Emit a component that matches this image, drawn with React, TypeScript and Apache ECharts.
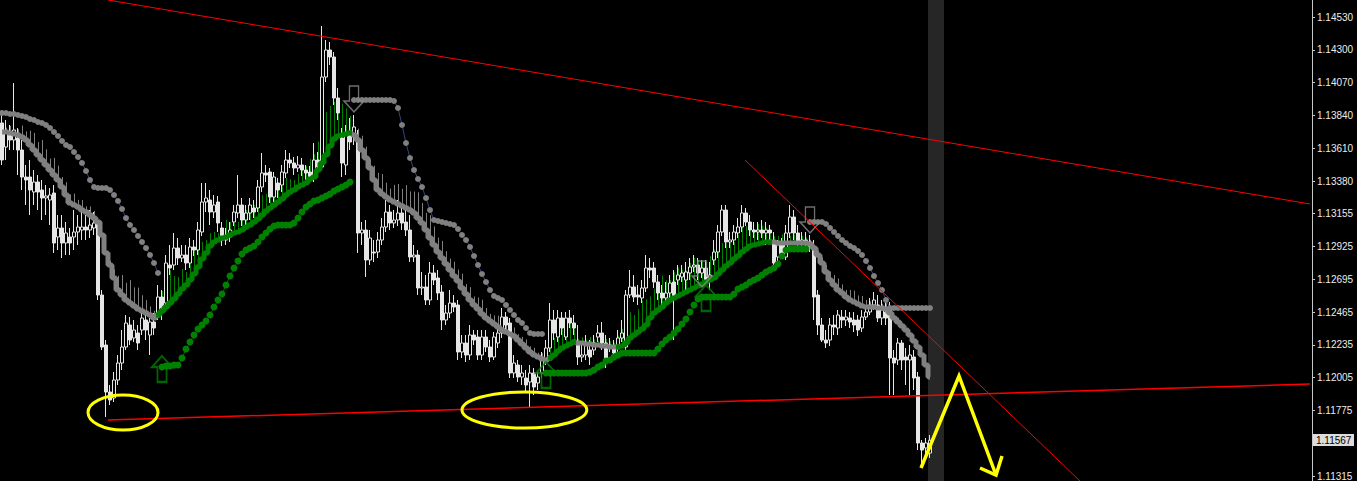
import React, { useEffect, useRef } from "react";
import * as echarts from "echarts";

// ---------- data ----------
const SLOTS = 328; // bar slots on the time axis (chart shift to the right)
const Y_MIN = 1.11282;
const Y_MAX = 1.14649;

const priceTicks = [1.1453, 1.143, 1.1407, 1.1384, 1.1361, 1.1338, 1.13155, 1.12925, 1.12695, 1.12465, 1.12235, 1.12005, 1.11775, 1.11315];
const lastPrice = 1.11567;

// [open, close, low, high]
const candles: number[][] = [
  [1.13788,1.13529,1.13494,1.13879],[1.1362,1.13718,1.13529,1.13809],[1.13704,1.13669,1.13599,1.13774],[1.13669,1.13739,1.13599,1.14068],
  [1.13683,1.13599,1.13424,1.13753],[1.13599,1.1341,1.13319,1.13669],[1.1341,1.13389,1.13214,1.13494],[1.1341,1.13319,1.13144,1.13529],
  [1.13305,1.13375,1.13214,1.13459],[1.13375,1.13305,1.13179,1.13424],[1.13319,1.13263,1.13109,1.13389],[1.13263,1.13277,1.13144,1.13354],
  [1.13249,1.13284,1.13074,1.13333],[1.13298,1.12948,1.12878,1.13354],[1.1299,1.13053,1.12899,1.13144],[1.13053,1.12948,1.12843,1.13144],
  [1.12948,1.13018,1.12864,1.13095],[1.1299,1.12948,1.12864,1.13053],[1.1299,1.13025,1.12899,1.13179],[1.13025,1.1306,1.12934,1.13144],
  [1.13039,1.1306,1.12969,1.13165],[1.1306,1.13039,1.12969,1.13144],[1.13039,1.13074,1.12983,1.13179],[1.13053,1.13088,1.13004,1.13165],
  [1.13088,1.12584,1.12549,1.13123],[1.12584,1.1222,1.12199,1.12619],[1.12234,1.11905,1.1173,1.12269],[1.11905,1.11849,1.11814,1.11954],
  [1.11863,1.11989,1.11835,1.12045],[1.11989,1.12108,1.11954,1.12164],[1.12108,1.1222,1.12059,1.12339],[1.1222,1.12388,1.12199,1.12444],
  [1.12374,1.12269,1.12234,1.1243],[1.12283,1.12339,1.12255,1.12409],[1.12318,1.12248,1.12199,1.12374],[1.12339,1.12423,1.12304,1.12479],
  [1.12409,1.12339,1.12269,1.12444],[1.12304,1.12395,1.12164,1.12423],[1.12395,1.12353,1.12304,1.12458],[1.12458,1.1257,1.12409,1.12654],
  [1.1257,1.12493,1.12409,1.12619],[1.12528,1.12808,1.12479,1.12864],[1.12794,1.12773,1.12724,1.12934],[1.12794,1.12913,1.12759,1.13018],
  [1.12913,1.12843,1.12794,1.12983],[1.12843,1.12864,1.12815,1.12934],[1.12864,1.12808,1.12759,1.12934],[1.12808,1.1292,1.12773,1.12983],
  [1.1292,1.12899,1.12857,1.12969],[1.12899,1.13039,1.12864,1.13095],[1.13025,1.13235,1.12997,1.13368],[1.13235,1.13263,1.13165,1.13368],
  [1.13249,1.13165,1.13074,1.13319],[1.13165,1.13214,1.13123,1.13284],[1.13235,1.13088,1.13025,1.13277],[1.13053,1.12969,1.12927,1.13095],
  [1.12969,1.1299,1.12934,1.13053],[1.1299,1.13039,1.12955,1.13095],[1.13095,1.13165,1.13067,1.13214],[1.13158,1.13214,1.13123,1.13424],
  [1.13214,1.13109,1.13067,1.13263],[1.13109,1.13158,1.13053,1.13214],[1.13158,1.13214,1.13109,1.13263],[1.13193,1.13165,1.13123,1.13249],
  [1.13193,1.1334,1.13165,1.13389],[1.1334,1.13438,1.13305,1.13578],[1.13438,1.13424,1.13375,1.13494],[1.13445,1.1327,1.13228,1.13473],
  [1.1327,1.1341,1.13235,1.13445],[1.13368,1.13319,1.13263,1.13403],[1.13354,1.13445,1.13305,1.13494],[1.13438,1.13529,1.13403,1.13599],
  [1.13529,1.13508,1.13473,1.13578],[1.13508,1.13473,1.13424,1.1355],[1.13473,1.13494,1.13445,1.13557],[1.13494,1.13459,1.13417,1.13543],
  [1.13459,1.13438,1.13389,1.13494],[1.13445,1.1341,1.13368,1.13487],[1.1341,1.13529,1.13375,1.13648],[1.13529,1.1348,1.13445,1.13585],
  [1.1348,1.1411,1.13459,1.14467],[1.1411,1.14299,1.14075,1.14369],[1.14299,1.1425,1.14194,1.14355],[1.1425,1.13963,1.13914,1.14285],
  [1.13963,1.13858,1.13809,1.14033],[1.13683,1.13508,1.1341,1.13753],[1.13494,1.13718,1.13424,1.13774],[1.13718,1.13655,1.13599,1.13823],
  [1.13704,1.1376,1.13634,1.13844],[1.13655,1.13018,1.12878,1.13739],[1.13018,1.13039,1.12934,1.13095],[1.13039,1.12829,1.1271,1.13109],
  [1.12829,1.12983,1.12794,1.13039],[1.12885,1.12878,1.12815,1.12969],[1.12885,1.12969,1.12843,1.13025],[1.12969,1.1306,1.12934,1.13123],
  [1.1306,1.13165,1.13025,1.13249],[1.13165,1.13088,1.13039,1.13214],[1.13088,1.13109,1.13053,1.13179],[1.13109,1.13158,1.13067,1.13249],
  [1.13158,1.13088,1.13039,1.13214],[1.13095,1.13039,1.12997,1.13179],[1.13039,1.1285,1.12815,1.13144],[1.1285,1.12864,1.12815,1.12934],
  [1.12864,1.12633,1.12584,1.12899],[1.12633,1.1264,1.12584,1.12745],[1.1264,1.12549,1.12514,1.12724],[1.12549,1.12738,1.12514,1.12815],
  [1.12738,1.12689,1.12654,1.12794],[1.12703,1.12598,1.12549,1.12759],[1.12605,1.12409,1.12339,1.12654],[1.12409,1.12458,1.12374,1.12514],
  [1.12458,1.12528,1.12423,1.12619],[1.12528,1.125,1.12465,1.12584],[1.12514,1.12185,1.12129,1.12549],[1.12185,1.12248,1.12143,1.12304],
  [1.12248,1.12164,1.12115,1.12304],[1.12164,1.12304,1.12129,1.12374],[1.12304,1.12269,1.12234,1.12339],[1.1229,1.12164,1.12129,1.12339],
  [1.12164,1.1229,1.12129,1.12339],[1.1229,1.1222,1.12185,1.12339],[1.1222,1.1215,1.12115,1.12269],[1.1215,1.1229,1.12129,1.12325],
  [1.12248,1.12318,1.12213,1.12374],[1.12318,1.1243,1.12283,1.12493],[1.1243,1.12374,1.12339,1.12465],[1.12388,1.12038,1.12003,1.12423],
  [1.12038,1.12108,1.12003,1.12164],[1.12094,1.1201,1.11975,1.12129],[1.1201,1.12038,1.11954,1.12094],[1.12003,1.11954,1.11905,1.12059],
  [1.11975,1.12038,1.118,1.12094],[1.12038,1.1194,1.11884,1.12073],[1.11968,1.1201,1.11919,1.12045],[1.12038,1.12129,1.12003,1.12185],
  [1.12129,1.12213,1.12094,1.12269],[1.12213,1.12409,1.12185,1.12528],[1.12409,1.12318,1.12269,1.12479],[1.1229,1.12423,1.12255,1.12479],
  [1.12423,1.12353,1.12304,1.12465],[1.1229,1.12423,1.12269,1.12465],[1.12423,1.12388,1.12353,1.12479],[1.12388,1.12353,1.12304,1.12444],
  [1.12248,1.1215,1.12094,1.12374],[1.1215,1.12164,1.12115,1.12234],[1.12164,1.12248,1.12129,1.12304],[1.12199,1.1215,1.12094,1.12269],
  [1.12199,1.12248,1.12164,1.12304],[1.1229,1.12318,1.12255,1.12374],[1.12318,1.12248,1.12199,1.12395],[1.12248,1.12115,1.12073,1.12304],
  [1.1222,1.12234,1.12185,1.12283],[1.1222,1.12178,1.12143,1.12269],[1.1222,1.12283,1.12185,1.12339],[1.12283,1.12318,1.12255,1.12409],
  [1.1222,1.12584,1.12199,1.12619],[1.12584,1.1264,1.12563,1.12759],[1.1264,1.1257,1.12535,1.12724],[1.12584,1.1257,1.12514,1.12654],
  [1.12563,1.12633,1.12528,1.12689],[1.12633,1.12773,1.12605,1.12864],[1.12773,1.12759,1.12703,1.12843],[1.12773,1.12675,1.12633,1.12815],
  [1.12675,1.12598,1.12549,1.12724],[1.12598,1.12563,1.12493,1.12654],[1.12563,1.12598,1.12514,1.12675],[1.12598,1.12668,1.12549,1.12724],
  [1.12675,1.12563,1.12269,1.12759],[1.12689,1.12724,1.12654,1.12794],[1.1271,1.12738,1.12675,1.12794],[1.12689,1.12745,1.12619,1.12815],
  [1.12738,1.1278,1.12689,1.12843],[1.1278,1.12794,1.12745,1.12864],[1.12794,1.12738,1.12689,1.12843],[1.12738,1.12773,1.12703,1.12829],
  [1.12773,1.12689,1.12654,1.12829],[1.12689,1.12724,1.12619,1.12815],[1.12829,1.12885,1.12794,1.12969],[1.12885,1.13025,1.12843,1.13074],
  [1.13025,1.13179,1.12997,1.13214],[1.13179,1.12955,1.12913,1.13214],[1.12955,1.12969,1.12913,1.13025],[1.12969,1.13025,1.12934,1.13074],
  [1.13018,1.1306,1.12983,1.13123],[1.1306,1.13158,1.13025,1.13214],[1.13158,1.13095,1.13067,1.13193],[1.13095,1.13039,1.12997,1.13144],
  [1.13039,1.13025,1.12983,1.13095],[1.13025,1.13039,1.12969,1.13095],[1.13039,1.13018,1.12983,1.13109],[1.13018,1.13039,1.12934,1.13095],
  [1.13039,1.13018,1.12969,1.13074],[1.12948,1.12808,1.12773,1.13025],[1.1285,1.12934,1.12815,1.12969],[1.12934,1.12878,1.12843,1.12983],
  [1.1285,1.13018,1.12829,1.13074],[1.13018,1.1313,1.12983,1.13214],[1.1313,1.13018,1.12969,1.13179],[1.13018,1.12948,1.12913,1.13074],
  [1.12948,1.12969,1.12899,1.13025],[1.12969,1.12934,1.12899,1.13025],[1.12955,1.1292,1.12885,1.13004],[1.1292,1.1257,1.12409,1.12969],
  [1.12584,1.12374,1.12304,1.12619],[1.12374,1.12269,1.12255,1.12423],[1.12269,1.12248,1.12213,1.12339],[1.12269,1.12374,1.12227,1.12423],
  [1.12374,1.1236,1.12304,1.12444],[1.12353,1.12444,1.12304,1.12479],[1.1243,1.12409,1.12353,1.12479],[1.12409,1.1243,1.12367,1.12479],
  [1.12423,1.12395,1.12353,1.12465],[1.12409,1.12374,1.12325,1.12465],[1.12409,1.12339,1.12297,1.12444],[1.12353,1.1243,1.12325,1.12479],
  [1.1243,1.12465,1.12409,1.12514],[1.12465,1.12514,1.12444,1.12563],[1.12514,1.12549,1.12479,1.12605],[1.12514,1.12423,1.12395,1.12584],
  [1.12423,1.12479,1.12374,1.12549],[1.12465,1.12423,1.12374,1.12549],[1.12493,1.12143,1.11884,1.12535],[1.12143,1.12108,1.11884,1.12199],
  [1.12129,1.12248,1.12094,1.12283],[1.12248,1.12129,1.12059,1.12269],[1.1215,1.12129,1.11954,1.12213],[1.12129,1.12164,1.11884,1.12234],
  [1.1215,1.12003,1.11919,1.12199],[1.1201,1.11548,1.11499,1.12045],[1.11548,1.11499,1.11394,1.11569],[1.11513,1.11548,1.11464,1.11583],
  [1.11478,1.11567,1.11443,1.11604],
];

// thick trailing band (step line)
const band: number[] = [
  1.13725,1.13725,1.13718,1.13711,1.13704,1.1369,1.13669,1.13634,1.13599,1.13564,1.13529,1.13494,1.13459,1.13424,1.13389,1.1334,1.13284,1.13228,1.13214,1.132,
  1.13179,1.13165,1.13144,1.13123,1.13095,1.13004,1.12878,1.12794,1.12703,1.12619,1.12584,1.12549,1.12528,1.12507,1.12486,1.12472,1.12458,1.12444,1.12423,
  1.12444,1.12472,1.125,1.12528,1.12556,1.12591,1.12626,1.12654,1.12689,1.12731,1.1278,1.12836,1.12878,1.12927,1.12955,1.12969,1.12983,1.1299,1.13004,1.13018,
  1.13025,1.13039,1.1306,1.13074,1.13095,1.13116,1.13144,1.13172,1.13193,1.13214,1.13235,1.13256,1.13284,1.13305,1.13319,1.1334,1.13354,1.13368,1.13396,1.1341,
  1.13459,1.13508,1.13564,1.13627,1.13676,1.13697,1.13704,1.13711,1.13718,
  1.13704,1.13669,1.13599,1.13543,1.13473,1.13389,1.13319,1.13291,1.1327,1.13249,1.13235,1.13221,1.13207,1.13193,1.13179,1.13158,1.13123,1.13088,1.13039,1.12983,
  1.12934,1.12885,1.12843,1.12801,1.12759,1.12717,1.12682,1.12633,1.12591,1.12549,1.12514,1.12486,1.12451,1.12423,1.12402,1.12381,1.1236,1.12339,1.12325,1.12311,
  1.12297,1.12269,1.12241,1.12213,1.12185,1.12164,1.1215,1.12136,1.12129,
  1.12143,1.12164,1.12192,1.12213,1.12227,1.12241,1.12255,
  1.12248,1.12248,1.12241,1.12241,1.12234,1.12234,1.12227,1.12227,1.1222,1.1222,
  1.1222,1.12227,1.12248,1.12283,1.12304,1.12325,1.12346,1.12374,1.12423,1.12458,1.12479,1.125,1.12528,1.12549,1.12563,1.12577,1.12591,1.12605,1.12619,1.12633,
  1.12647,1.12661,1.12675,1.12689,1.12703,1.12731,1.12759,1.12787,1.12808,1.12836,1.12857,1.12885,1.12906,1.12927,1.12934,1.12941,1.12948,1.12955,1.12955,
  1.12955,1.12948,1.12948,1.12948,1.12948,1.12948,1.12948,1.12948,1.12948,1.12941,1.12913,1.12864,1.12808,1.12745,1.12689,1.12654,1.12619,1.12598,1.1257,1.12549,
  1.12535,1.12521,1.12507,1.125,1.125,1.125,1.12493,1.12493,1.12486,1.12458,1.12423,1.12395,1.12367,1.12339,1.12304,1.12262,1.1222,1.12164,1.12094,1.1201,
];
const bandUpRanges = [[39, 87], [137, 143], [154, 192]];

// slow dotted trailing stop
const dots: number[] = [
  1.13858,1.13858,1.13851,1.13851,1.13844,1.13837,1.1383,1.13816,1.13809,1.13795,1.13788,1.13774,1.13753,1.13725,1.13697,1.13662,1.13634,1.1362,1.13585,1.1355,
  1.13508,1.13452,1.13389,1.1334,1.13333,1.13333,1.13333,1.13319,1.13284,1.13242,1.13186,1.13123,1.13074,1.13039,1.12997,1.12955,1.12913,1.12864,1.12808,1.12738,
  1.1208,1.12087,1.12087,1.12094,1.12094,1.12143,1.12206,1.12255,1.12304,1.12346,1.12374,1.12402,1.12444,1.125,1.12549,1.12591,1.12654,1.12717,1.12773,1.12822,
  1.12871,1.12899,1.12913,1.12927,1.12955,1.1299,1.13018,1.13046,1.13067,1.13074,1.13074,1.13074,1.13074,1.13088,1.13123,1.13165,1.132,1.13221,1.13242,1.13249,
  1.13263,1.13277,1.13291,1.13312,1.13326,1.1334,1.13354,1.13375,
  1.13949,1.13949,1.13949,1.13949,1.13949,1.13949,1.13949,1.13949,1.13949,1.13949,1.13942,1.13893,1.13774,1.13648,1.13543,1.13459,1.13396,1.1334,1.13263,1.13179,
  1.13109,1.13102,1.13095,1.13088,1.13081,1.13074,1.13046,1.13004,1.12969,1.1292,1.12857,1.12794,1.12731,1.12675,1.12619,1.12577,1.12563,1.12549,1.12514,1.12479,
  1.12444,1.12409,1.12388,1.12353,1.12318,1.12311,1.12311,1.12311,
  1.12038,1.12038,1.12038,1.12038,1.12038,1.12038,1.12038,1.12038,1.12038,1.12038,1.12038,1.12045,1.12059,1.1208,1.12094,1.12122,1.12129,1.1215,1.12164,1.12178,
  1.12178,1.12178,1.12178,1.12178,1.12178,1.12178,1.12178,1.12178,1.12206,1.12241,1.12269,1.1229,1.12318,1.12346,1.12381,1.12416,1.12465,1.12514,1.12556,1.1257,
  1.1257,1.1257,1.1257,1.1257,1.1257,1.1257,1.1257,1.12591,1.12626,1.1264,1.12654,1.12675,1.12689,1.12703,1.12724,1.12745,1.12759,1.12773,1.12801,1.12857,
  1.12899,1.12906,1.12906,1.12906,1.12906,1.12906,
  1.13095,1.13095,1.13095,1.13095,1.13081,1.13053,1.13025,1.12997,1.12969,1.12948,1.12927,1.12913,1.12892,1.12864,1.12822,1.12773,1.12717,1.12668,1.12619,1.12549,
  1.12493,1.12493,1.12493,1.12493,1.12493,1.12493,1.12493,1.12493,1.12493,1.12493,1.12493,
];
const dotUpRanges = [[40, 87], [136, 201]];

// thin histogram strokes above the band, length in pips
const spikePips: number[] = [
  0,3,5,2,4, 8,6,10,12,9,14,11,8,12, 10,7,9,6,8,5,7,4,6,5, 0,0,0,3,6,10,14,12,16,13,15,11,9,6,
  5,
  9,14,19,23,16,12,14,9,14,19,16,12,9,9,7,5,7,12,9,7,7,9,12,14,12,16,14,12,14,12,12,9,12,9,7,9,12,
  12,14,16,20,25,30,28,26,24,22,18,12,
  6,8,10,8,6,10,12,14,10,8,12,
  14,12,16,13,15,18,14,12,16,13,10,12,9,8,10,
  8,10,7,9,6,8,10,7,5,6,8,6,5,7,6,4,5,6,4,5,3,4,2,
  10,12,14,16,13,15,12,
  3,4,3,5,4,3,4,5,4,3,
  8,12,15,18,14,16,20,18,15,17,19,22,16,14,18,20,17,15,19,21,18,16,14,17,20,22,19,16,14,12,15,18,16,13,11,14,12,10,8,
  4,5,6,4,5,6,7,5,4,3,2,3,4,5,6,7,8,6,5,7,8,6,7,5,4,3,2,3,4,3,2,3,2,1,2,1,1,0,0,0,
];

// signal arrows [bar index, tip price]
const upArrows = [[40, 1.12157], [136, 1.12115], [176, 1.12654]];
const downArrows = [[88, 1.13865], [175, 1.1264], [202, 1.13018]];

// hand-drawn objects in [bar position, price]
const trendUpper = [[26.5, 1.14649], [327, 1.13221]];
const trendSupport = [[26.5, 1.11709], [327, 1.11961]];
const trendSteep = [[185.75, 1.13529], [269.5, 1.11282]];
const yellowZigzag = [[229.75, 1.11373], [239.25, 1.12017], [248.5, 1.11324]];
const yellowHead = [[244.5, 1.11373], [248.5, 1.11324], [250, 1.11457]];
const ellipseMarks = [
  { cx: 30.25, cy: 1.11762, rx: 8.75, ry: 0.001225 },
  { cx: 130.6, cy: 1.11779, rx: 15.6, ry: 0.00126 },
];
const highlightSpan = [231.5, 235.5];

// ---------- helpers ----------
const inRanges = (i: number, ranges: number[][]) => ranges.some(([a, b]) => i >= a && i <= b);
const FONT = "Liberation Sans";

export default function App() {
  const ref = useRef<HTMLDivElement>(null);

  useEffect(() => {
    document.body.style.margin = "0";
    document.body.style.background = "#000";
    const chart = echarts.init(ref.current!, null, { renderer: "svg" });

    const categories = Array.from({ length: SLOTS }, (_, i) => String(i));
    const bandGreen = band.map((v, i) => (inRanges(i, bandUpRanges) ? v : null));
    const bandGrey = band.map((v, i) =>
      !inRanges(i, bandUpRanges) || !inRanges(i - 1, bandUpRanges) || !inRanges(i + 1, bandUpRanges) ? v : null
    );
    const dotsGreen = dots.map((v, i) => (inRanges(i, dotUpRanges) ? v : null));
    const dotsGrey = dots.map((v, i) => (!inRanges(i, dotUpRanges) ? v : null));
    const spikes = band.map((v, i) => [
      i,
      v,
      v + spikePips[i] * 0.0001,
      inRanges(i, bandUpRanges) || inRanges(i, dotUpRanges) ? 1 : 0,
    ]);

    const upPath = "path://M11,0 L22,11 L16,11 L16,26 L6,26 L6,11 L0,11 Z";
    const downPath = "path://M6,0 L16,0 L16,15 L22,15 L11,26 L0,15 L6,15 Z";

    const overlayLine = (data: number[][], color: string, width: number) => ({
      type: "line",
      xAxisIndex: 1,
      yAxisIndex: 0,
      data,
      symbol: "none",
      silent: true,
      z: 5,
      lineStyle: { color, width, join: "miter" },
    });

    chart.setOption({
      animation: false,
      backgroundColor: "#000000",
      grid: { left: 0, right: 45, top: 0, bottom: 0, containLabel: false, outerBoundsMode: "none" },
      xAxis: [
        { type: "category", data: categories, show: false, boundaryGap: true },
        { type: "value", min: -0.5, max: SLOTS - 0.5, show: false },
      ],
      yAxis: {
        type: "value",
        position: "right",
        min: Y_MIN,
        max: Y_MAX,
        scale: true,
        splitLine: { show: false },
        axisLine: { show: true, onZero: false, lineStyle: { color: "#c8c8c8", width: 1 } },
        axisTick: { show: true, length: 3, customValues: priceTicks, lineStyle: { color: "#c8c8c8" } },
        axisLabel: {
          customValues: priceTicks,
          formatter: (v: number) => v.toFixed(5),
          color: "#ececec",
          fontFamily: FONT,
          fontSize: 10,
          margin: 5,
        },
      },
      series: [
        {
          type: "candlestick",
          data: candles,
          barWidth: 3,
          silent: true,
          itemStyle: {
            color: "#000000",
            color0: "#e6e6e6",
            borderColor: "#e6e6e6",
            borderColor0: "#e6e6e6",
            borderWidth: 1,
          },
        },
        {
          type: "custom",
          data: spikes,
          silent: true,
          encode: { x: 0, y: [1, 2] },
          renderItem: (_p: any, api: any) => {
            const a = api.coord([api.value(0), api.value(1)]);
            const b = api.coord([api.value(0), api.value(2)]);
            const x = Math.round(a[0]) + 0.5;
            return {
              type: "line",
              shape: { x1: x, y1: a[1], x2: x, y2: b[1] },
              style: { stroke: api.value(3) ? "#008000" : "#808080", lineWidth: 1 },
            };
          },
        },
        {
          type: "line",
          data: bandGrey,
          step: "middle",
          symbol: "none",
          silent: true,
          lineStyle: { color: "#808080", width: 5 },
        },
        {
          type: "line",
          data: bandGreen,
          step: "middle",
          symbol: "none",
          silent: true,
          lineStyle: { color: "#008000", width: 5 },
        },
        {
          type: "line",
          data: dotsGrey,
          symbol: "circle",
          symbolSize: 6,
          showSymbol: true,
          showAllSymbol: true,
          silent: true,
          itemStyle: { color: "#808080", borderWidth: 0 },
          lineStyle: { color: "#34457a", width: 1 },
        },
        {
          type: "line",
          data: dotsGreen,
          symbol: "circle",
          symbolSize: 7,
          showSymbol: true,
          showAllSymbol: true,
          silent: true,
          itemStyle: { color: "#008000", borderWidth: 0 },
          lineStyle: { color: "#006400", width: 1 },
        },
        {
          type: "scatter",
          data: upArrows,
          symbol: upPath,
          symbolSize: [20, 26],
          symbolOffset: [0, 13],
          silent: true,
          z: 6,
          itemStyle: { color: "rgba(0,0,0,0)", borderColor: "#008000", borderWidth: 2 },
        },
        {
          type: "scatter",
          data: downArrows,
          symbol: downPath,
          symbolSize: [20, 26],
          symbolOffset: [0, -13],
          silent: true,
          z: 6,
          itemStyle: { color: "rgba(0,0,0,0)", borderColor: "#8a8a8a", borderWidth: 1.5 },
        },
        overlayLine(trendUpper, "#ff0000", 1),
        overlayLine(trendSupport, "#ff0000", 1.5),
        overlayLine(trendSteep, "#ff0000", 1),
        overlayLine(yellowZigzag, "#ffff00", 3.5),
        overlayLine(yellowHead, "#ffff00", 3.5),
      ],
    });

    const px = (x: number) => chart.convertToPixel({ xAxisIndex: 1 }, x) as number;
    const py = (y: number) => chart.convertToPixel({ yAxisIndex: 0 }, y) as number;
    const gridRight = px(SLOTS - 0.5);
    const hx0 = px(highlightSpan[0]);
    const hx1 = px(highlightSpan[1]);
    const ly = py(lastPrice);

    const elements: any[] = [
      {
        type: "rect",
        z: -1,
        silent: true,
        shape: { x: hx0, y: 0, width: hx1 - hx0, height: 481 },
        style: { fill: "#262626" },
      },
      ...ellipseMarks.map((e) => {
        const cx = px(e.cx);
        const cy = py(e.cy);
        return {
          type: "ellipse",
          z: 20,
          silent: true,
          shape: { cx, cy, rx: px(e.cx + e.rx) - cx, ry: py(e.cy - e.ry) - cy },
          style: { fill: "none", stroke: "#ffff00", lineWidth: 3 },
        };
      }),
      {
        type: "rect",
        z: 30,
        silent: true,
        shape: { x: gridRight + 1, y: Math.round(ly) - 6, width: 41, height: 12 },
        style: { fill: "#dcdcdc" },
      },
      {
        type: "text",
        z: 31,
        silent: true,
        x: gridRight + 4,
        y: Math.round(ly),
        style: {
          text: lastPrice.toFixed(5),
          fill: "#000000",
          font: `10px "${FONT}"`,
          verticalAlign: "middle",
        },
      },
    ];
    chart.setOption({ graphic: { elements } });

    return () => chart.dispose();
  }, []);

  return <div ref={ref} style={{ width: 1357, height: 481, background: "#000" }} />;
}
